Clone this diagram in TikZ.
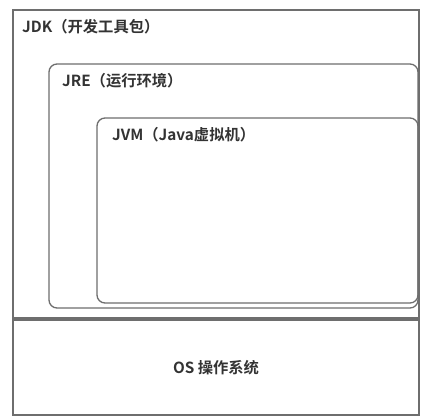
\documentclass[tikz,border=0pt]{standalone}
\usepackage{fontspec}
\setmainfont{Noto Sans CJK SC}[BoldFont={* Bold}]
\definecolor{edge}{HTML}{6E6E6E}
\definecolor{txt}{HTML}{333333}
\begin{document}
\begin{tikzpicture}[x=1pt,y=-1pt,
  box/.style={draw=edge,line width=1.3pt},
  rbox/.style={draw=edge,line width=1.3pt,rounded corners=8pt},
  lbl/.style={text=txt,font=\bfseries\fontsize{15.3}{17}\selectfont,anchor=west,inner sep=0pt}]
\useasboundingbox (0,0) rectangle (423,417);
\fill[white] (0,0) rectangle (423,417);
\draw[box] (13,10) rectangle (419,318);
\draw[rbox] (49,64) rectangle (418,308);
\draw[rbox] (97,118) rectangle (418,303);
\draw[box] (13,320) rectangle (419,415);
\draw[draw=edge,line width=2pt] (13,318.5) -- (419,318.5);
\node[lbl] (jdk) at (22,27) {JDK（开发工具包）};
\node[lbl] (jre) at (62,81) {JRE（运行环境）};
\node[lbl] (jvm) at (112,135) {JVM（Java虚拟机）};
\node[lbl,anchor=center] (os) at (216,368) {OS 操作系统};
\end{tikzpicture}
\end{document}
